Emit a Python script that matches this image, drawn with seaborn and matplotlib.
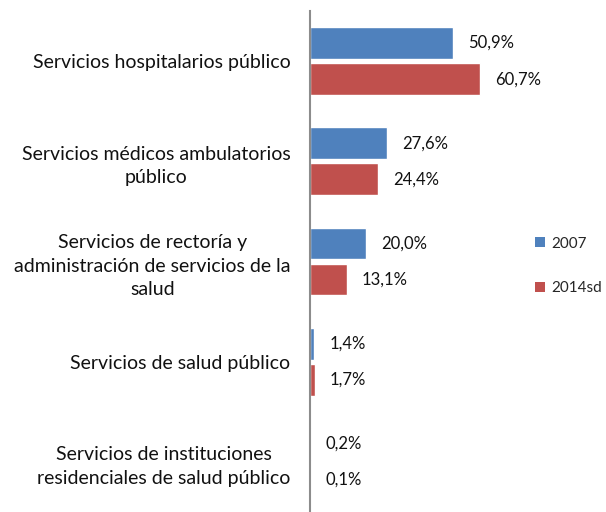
import matplotlib.pyplot as plt
import pandas as pd
import seaborn as sns
from matplotlib.patches import Patch

categories = [
    "Servicios hospitalarios público",
    "Servicios médicos ambulatorios\npúblico",
    "Servicios de rectoría y\nadministración de servicios de la\nsalud",
    "Servicios de salud público",
    "Servicios de instituciones\nresidenciales de salud público",
]
values_2007 = [50.9, 27.6, 20.0, 1.4, 0.2]
values_2014 = [60.7, 24.4, 13.1, 1.7, 0.1]
series = ["2007", "2014sd"]
colors = ["#4F81BD", "#C0504D"]

data = pd.DataFrame({
    "categoria": categories * 2,
    "valor": values_2007 + values_2014,
    "serie": [series[0]] * len(categories) + [series[1]] * len(categories),
})

sns.set_theme(style="white")
plt.rcParams["font.family"] = ["Lato", "DejaVu Sans"]

fig = plt.figure(figsize=(6.06, 5.12), dpi=100)
ax = fig.add_axes([310 / 606, 0.0, 210 / 606, 501 / 512])

sns.barplot(
    data=data, x="valor", y="categoria", hue="serie", orient="h",
    palette=colors, saturation=1, width=0.72, gap=0.12, ax=ax, legend=False,
)

for container in ax.containers:
    labels = [f"{v:.1f}%".replace(".", ",") for v in container.datavalues]
    ax.bar_label(container, labels=labels, padding=11, fontsize=12, color="#111111")

ax.set_xlim(0, 75)
ax.set_xlabel("")
ax.set_ylabel("")
ax.set_xticks([])
ax.tick_params(axis="y", length=0, pad=14, labelsize=14)
for label in ax.get_yticklabels():
    label.set_multialignment("center")
    label.set_linespacing(1.45)
    label.set_color("#111111")

for side in ["top", "right", "bottom"]:
    ax.spines[side].set_visible(False)
ax.spines["left"].set_color("#8c8c8c")
ax.spines["left"].set_linewidth(1.5)

handles = [Patch(facecolor=c, edgecolor="none") for c in colors]
fig.legend(
    handles, series, loc="center left", bbox_to_anchor=(535 / 606, 1 - 266 / 512),
    frameon=False, fontsize=11, handlelength=0.65, handleheight=0.65,
    handletextpad=0.4, labelspacing=2.0, borderpad=0, borderaxespad=0,
)

fig.savefig("out.png", dpi=100)
